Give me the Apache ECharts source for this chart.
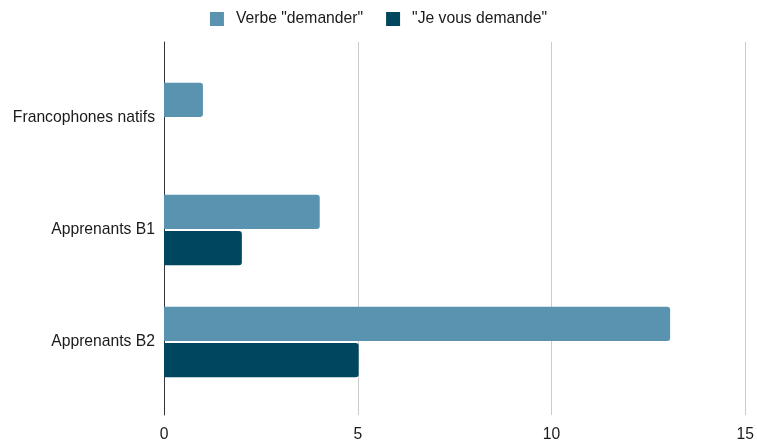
<!DOCTYPE html>
<html>
<head>
<meta charset="utf-8">
<script src="https://cdn.jsdelivr.net/npm/echarts@6/dist/echarts.min.js"></script>
<style>
  html, body { margin: 0; padding: 0; background: #fff; }
  #container { width: 757px; height: 443px; }
</style>
</head>
<body>
<div id="container"></div>
<script>
var dom = document.getElementById("container");
var myChart = echarts.init(dom);

var categories = ['Francophones natifs', 'Apprenants B1', 'Apprenants B2'];
var seriesNames = ['Verbe "demander"', '"Je vous demande"'];
var verbeValues = [1, 4, 13];
var jeVousValues = [0, 2, 5];
var xTicks = [0, 5, 10, 15];

var font = 'Liberation Sans, Arial, sans-serif';

var option = {
    animation: false,
    textStyle: { fontFamily: font },
    color: ['#5a93b0', '#01465f'],
    legend: {
        top: 6,
        left: 'center',
        itemWidth: 14,
        itemHeight: 14,
        itemGap: 23,
        icon: 'rect',
        textStyle: { fontSize: 15.7, color: '#1a1a1a', fontFamily: font, padding: [0, 0, 0, 7] },
        data: seriesNames
    },
    grid: [
        { left: 164, right: 9, top: 42, bottom: 26 },
        { left: 164, right: 9, top: 62, bottom: 45 }
    ],
    xAxis: [
        {
            gridIndex: 0,
            type: 'value',
            min: xTicks[0],
            max: xTicks[xTicks.length - 1],
            interval: 5,
            axisLine: { show: false },
            axisTick: { show: false },
            axisLabel: { fontSize: 15.7, color: '#1a1a1a', margin: 12 },
            splitLine: { lineStyle: { color: '#cccccc' } }
        },
        {
            gridIndex: 1,
            type: 'value',
            min: xTicks[0],
            max: xTicks[xTicks.length - 1],
            show: false
        }
    ],
    yAxis: [
        {
            gridIndex: 0,
            type: 'category',
            data: categories,
            inverse: true,
            axisLine: { show: true, lineStyle: { color: '#333', width: 1 } },
            axisTick: { show: false },
            axisLabel: { show: false },
            splitLine: { show: false }
        },
        {
            gridIndex: 1,
            type: 'category',
            data: categories,
            inverse: true,
            axisLine: { show: false },
            axisTick: { show: false },
            axisLabel: { fontSize: 15.7, color: '#1a1a1a', margin: 9 }
        }
    ],
    series: [
        {
            name: seriesNames[0],
            type: 'bar',
            xAxisIndex: 1,
            yAxisIndex: 1,
            data: verbeValues,
            barCategoryGap: '37%',
            barGap: '6%',
            itemStyle: { borderRadius: [0, 3, 3, 0] }
        },
        {
            name: seriesNames[1],
            type: 'bar',
            xAxisIndex: 1,
            yAxisIndex: 1,
            data: jeVousValues,
            barCategoryGap: '37%',
            barGap: '6%',
            itemStyle: { borderRadius: [0, 3, 3, 0] }
        }
    ]
};
myChart.setOption(option, true);
</script>
</body>
</html>
